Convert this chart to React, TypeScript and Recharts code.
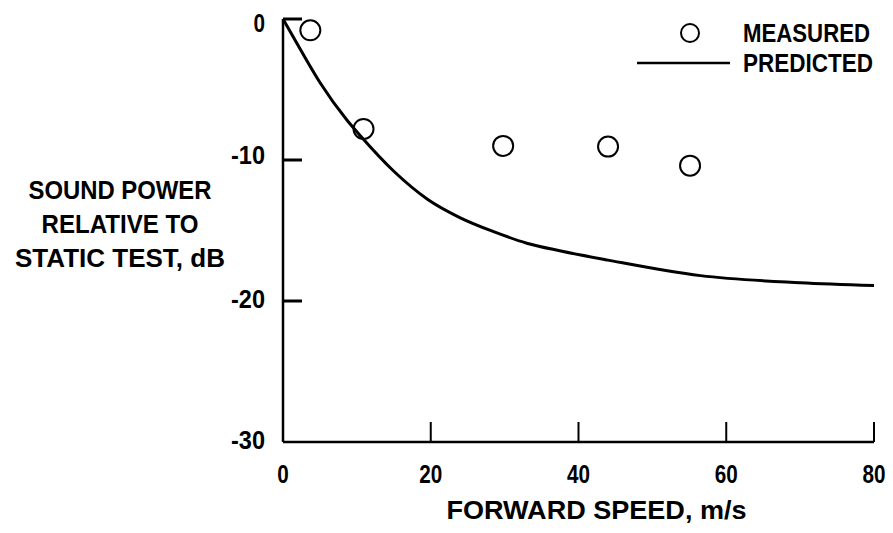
import React from "react"
import { ComposedChart, Line, Scatter, XAxis, YAxis } from "recharts"

// values
const predictedSpeed = [0, 2.4, 5, 8.7, 10.5, 15, 19.6, 24, 28.6, 33, 37.6, 44, 56.5, 70, 80]
const predictedDb = [0, -2.2, -4.5, -7.2, -8.3, -10.8, -12.8, -14.1, -15.1, -15.9, -16.45, -17.1, -18.2, -18.7, -18.9]

const measuredSpeed = [3.7, 10.9, 29.8, 44, 55.1]
const measuredDb = [-0.8, -7.8, -9.0, -9.05, -10.4]

const xTicks = [0, 20, 40, 60, 80]
const yTicks = [-30, -20, -10, 0]

const yTitle = ["SOUND POWER", "RELATIVE TO", "STATIC TEST, dB"]
const xTitle = "FORWARD SPEED, m/s"

const predicted = predictedSpeed.map((x, i) => ({ x, y: predictedDb[i] }))
const measured = measuredSpeed.map((x, i) => ({ x, y: measuredDb[i] }))

const FONT = "'Liberation Sans', Arial, sans-serif"
const INK = "#000"

// condensed bold text: squeeze a regular font to the width seen in the scan
function T({ x, y, w, anchor = "start", children }: any) {
  return (
    <text x={x} y={y} textAnchor={anchor} dominantBaseline="central" fontFamily={FONT} fontWeight="bold"
      fontSize={25} fill={INK} textLength={w} lengthAdjust="spacingAndGlyphs">
      {children}
    </text>
  )
}

const numWidth = (s: string) => s.replace("-", "").length * 11.5 + (s.startsWith("-") ? 11 : 0)

function XTick(props: any) {
  const { x, y, payload } = props
  const s = String(payload.value)
  return (
    <g>
      {payload.value !== 0 && <path d={`M${x},${y}V${y - 20}`} stroke={INK} strokeWidth={2} fill="none" />}
      <T x={x} y={y + 32} w={numWidth(s)} anchor="middle">{s}</T>
    </g>
  )
}

function YTick(props: any) {
  const { x, y, payload } = props
  const ax = x + 18
  const s = String(payload.value)
  const dy = payload.value === 0 ? 4 : payload.value === -10 ? -5 : -2
  return (
    <g>
      {payload.value !== -30 && <rect x={ax} y={y - 1.5} width={19} height={3} fill={INK} />}
      <T x={x} y={y + dy} w={numWidth(s)} anchor="end">{s}</T>
    </g>
  )
}

const yTitleWidths = [183, 157, 210]

function YTitle(props: any) {
  const vb = props.viewBox
  const cy = vb.y + vb.height / 2
  return (
    <g>
      {yTitle.map((t, i) => (
        <T key={t} x={vb.x + 112} y={cy - 41 + i * 34} w={yTitleWidths[i]} anchor="middle">{t}</T>
      ))}
    </g>
  )
}

function XTitle(props: any) {
  const vb = props.viewBox
  return <T x={vb.x + vb.width / 2 + 18} y={vb.y + 68} w={300} anchor="middle">{xTitle}</T>
}

function LegendBox() {
  return (
    <svg width={265} height={75} style={{ position: "absolute", left: 620, top: 0 }}>
      <circle cx={62} cy={25} r={9} fill="none" stroke={INK} strokeWidth={2} />
      <T x={115} y={25} w={127}>MEASURED</T>
      <path d="M9,55H102" stroke={INK} strokeWidth={2.5} fill="none" />
      <T x={115} y={55} w={130}>PREDICTED</T>
    </svg>
  )
}

export default function App() {
  return (
    <div style={{ position: "relative", width: 885, height: 525, background: "#fff" }}>
      <ComposedChart width={885} height={525} margin={{ top: 11, right: 19, left: 0, bottom: 0 }}>
        <XAxis
          type="number"
          dataKey="x"
          domain={[0, 80]}
          ticks={xTicks}
          height={91}
          tickSize={0}
          tickMargin={0}
          tick={<XTick />}
          axisLine={{ stroke: INK, strokeWidth: 2.5 }}
          label={<XTitle />}
        />
        <YAxis
          type="number"
          dataKey="y"
          domain={[-30, 0]}
          ticks={yTicks}
          width={275}
          tickSize={0}
          tickMargin={18}
          tick={<YTick />}
          axisLine={{ stroke: INK, strokeWidth: 2.5 }}
          label={<YTitle />}
        />
        <Line data={predicted} dataKey="y" type="monotone" stroke={INK} strokeWidth={3} dot={false} isAnimationActive={false} />
        <Scatter
          data={measured}
          dataKey="y"
          isAnimationActive={false}
          shape={(p: any) => <circle cx={p.cx} cy={p.cy} r={10} fill="none" stroke={INK} strokeWidth={2} />}
        />
      </ComposedChart>
      <LegendBox />
    </div>
  )
}
